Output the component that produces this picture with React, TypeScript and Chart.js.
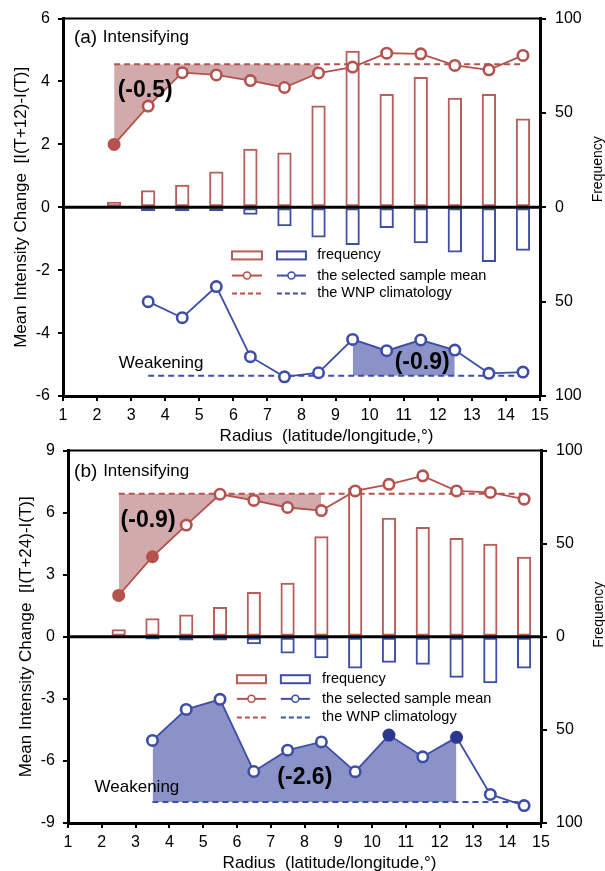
import { useEffect, useRef } from 'react';
import { Chart, registerables } from 'chart.js';

Chart.register(...registerables);

// ---------- data ----------
const radius = [2.5, 3.5, 4.5, 5.5, 6.5, 7.5, 8.5, 9.5, 10.5, 11.5, 12.5, 13.5, 14.5];
const xTicks = [1, 15];

// panel (a): 12-h change
const aIntMean = [2.0, 3.22, 4.28, 4.21, 4.03, 3.81, 4.27, 4.46, 4.9, 4.88, 4.51, 4.37, 4.83];
const aIntFilled = [true, false, false, false, false, false, false, false, false, false, false, false, false];
const aIntClim = 4.55;
const aIntFreq = [3, 9, 12, 19, 31, 29, 54, 83, 60, 69, 58, 60, 47];
const aWeakMean = [null, -3.0, -3.51, -2.52, -4.75, -5.39, -5.26, -4.2, -4.56, -4.22, -4.54, -5.28, -5.24];
const aWeakFilled = [false, false, false, false, false, false, false, false, false, false, false, false, false];
const aWeakClim = -5.36;
const aWeakFreq = [null, 2, 2, 2, 4, 10, 16, 20, 11, 19, 24, 29, 23];
const aIntShadeRange = [2.5, 8.5];
const aWeakShadeRange = [9.5, 12.5];
const aYTicks = [-6, 6, 2];
const aIntLabel = '(-0.5)';
const aWeakLabel = '(-0.9)';

// panel (b): 24-h change
const bIntMean = [2.0, 3.87, 5.4, 6.89, 6.59, 6.25, 6.1, 7.05, 7.37, 7.78, 7.05, 6.98, 6.65];
const bIntFilled = [true, true, false, false, false, false, false, false, false, false, false, false, false];
const bIntClim = 6.92;
const bIntFreq = [4, 10, 12, 16, 24, 29, 54, 80, 64, 59, 53, 50, 43];
const bWeakMean = [null, -5.01, -3.51, -3.02, -6.51, -5.48, -5.08, -6.52, -4.75, -5.8, -4.86, -7.62, -8.16];
const bWeakFilled = [false, false, false, false, false, false, false, false, true, false, true, false, false];
const bWeakClim = -7.98;
const bWeakFreq = [null, 1.5, 2, 2, 4, 9, 11.5, 17, 14, 15, 22, 25, 17];
const bIntShadeRange = [2.5, 8.5];
const bWeakShadeRange = [3.5, 12.5];
const bYTicks = [-9, 9, 3];
const bIntLabel = '(-0.9)';
const bWeakLabel = '(-2.6)';

const freqTicks = [-100, 100, 50];
const legendLabels = ['frequency', 'the selected sample mean', 'the WNP climatology'];

// ---------- styles ----------
const FONT = '"Liberation Sans", Arial, Helvetica, sans-serif';
const RED = '#B4524E';
const RED_BAR = '#B85E5A';
const BLUE = '#3E4EA8';
const BLUE_DARK = '#2C378F';
const RED_SHADE = '#D3AAAB';
const BLUE_SHADE = '#8B92C8';

type Panel = {
  tag: string;
  yLabel: string;
  yTicks: number[];
  intMean: (number | null)[];
  intFilled: boolean[];
  intClim: number;
  intFreq: (number | null)[];
  weakMean: (number | null)[];
  weakFilled: boolean[];
  weakClim: number;
  weakFreq: (number | null)[];
  intShade: number[];
  weakShade: number[];
  intLabel: string;
  weakLabel: string;
  padTop: number;
  yW: number;
  y2W: number;
  xH: number;
  tagPos: number[];
  intTextX: number;
  intLabelPos: number[];
  weakTextPos: number[];
  weakLabelPos: number[];
  legendX: number[];
  legendY: number[];
  freqOffset: number;
};

const panelA: Panel = {
  tag: '(a)',
  yLabel: 'Mean Intensity Change  [I(T+12)-I(T)]',
  yTicks: aYTicks,
  intMean: aIntMean,
  intFilled: aIntFilled,
  intClim: aIntClim,
  intFreq: aIntFreq,
  weakMean: aWeakMean,
  weakFilled: aWeakFilled,
  weakClim: aWeakClim,
  weakFreq: aWeakFreq,
  intShade: aIntShadeRange,
  weakShade: aWeakShadeRange,
  intLabel: aIntLabel,
  weakLabel: aWeakLabel,
  padTop: 17,
  yW: 63,
  y2W: 65,
  xH: 49,
  tagPos: [1.32, 5.4],
  intTextX: 2.17,
  intLabelPos: [3.41, 3.72],
  weakTextPos: [3.88, -4.95],
  weakLabelPos: [11.54, -4.95],
  legendX: [5.96, 6.84, 7.28, 8.13, 8.46],
  legendY: [-1.53, -2.17, -2.74],
  freqOffset: -38,
};

const panelB: Panel = {
  tag: '(b)',
  yLabel: 'Mean Intensity Change  [I(T+24)-I(T)]',
  yTicks: bYTicks,
  intMean: bIntMean,
  intFilled: bIntFilled,
  intClim: bIntClim,
  intFreq: bIntFreq,
  weakMean: bWeakMean,
  weakFilled: bWeakFilled,
  weakClim: bWeakClim,
  weakFreq: bWeakFreq,
  intShade: bIntShadeRange,
  weakShade: bWeakShadeRange,
  intLabel: bIntLabel,
  weakLabel: bWeakLabel,
  padTop: 13,
  yW: 68,
  y2W: 64,
  xH: 48,
  tagPos: [1.18, 8.0],
  intTextX: 2.04,
  intLabelPos: [3.37, 5.62],
  weakTextPos: [3.04, -7.29],
  weakLabelPos: [8.01, -6.81],
  legendX: [6.0, 6.86, 7.3, 8.16, 8.52],
  legendY: [-2.05, -3.0, -3.9],
  freqOffset: -22,
};

function pts(vals: (number | null)[], lo = -Infinity, hi = Infinity) {
  const out: { x: number; y: number }[] = [];
  radius.forEach((x, i) => {
    const v = vals[i];
    if (v !== null && v !== undefined && x >= lo && x <= hi) out.push({ x, y: v });
  });
  return out;
}

function climPts(vals: (number | null)[], clim: number) {
  const xs = radius.filter((_, i) => vals[i] !== null);
  return [{ x: xs[0], y: clim }, { x: xs[xs.length - 1], y: clim }];
}

function makeOverlay(p: Panel) {
  return {
    id: 'overlay',
    afterDraw(chart: any) {
      const { ctx, chartArea: ca, scales } = chart;
      const X = (v: number) => scales.x.getPixelForValue(v);
      const Y = (v: number) => scales.y.getPixelForValue(v);
      ctx.save();
      ctx.strokeStyle = '#000';
      // top border
      ctx.lineWidth = 2;
      ctx.beginPath();
      ctx.moveTo(ca.left, ca.top);
      ctx.lineTo(ca.right, ca.top);
      ctx.stroke();
      // zero line
      ctx.lineWidth = 3;
      ctx.beginPath();
      ctx.moveTo(ca.left, Y(0));
      ctx.lineTo(ca.right, Y(0));
      ctx.stroke();

      ctx.fillStyle = '#000';
      ctx.textBaseline = 'middle';
      ctx.textAlign = 'left';
      ctx.font = `19px ${FONT}`;
      ctx.fillText(p.tag, X(p.tagPos[0]), Y(p.tagPos[1]));
      ctx.font = `17px ${FONT}`;
      ctx.fillText('Intensifying', X(p.intTextX), Y(p.tagPos[1]));
      ctx.textAlign = 'center';
      ctx.fillText('Weakening', X(p.weakTextPos[0]), Y(p.weakTextPos[1]));
      ctx.font = `bold 23px ${FONT}`;
      ctx.fillText(p.intLabel, X(p.intLabelPos[0]), Y(p.intLabelPos[1]));
      ctx.fillText(p.weakLabel, X(p.weakLabelPos[0]), Y(p.weakLabelPos[1]));

      // legend
      const [rx0, rx1, bx0, bx1, tx] = p.legendX;
      const [r1, r2, r3] = p.legendY.map(Y);
      ctx.lineWidth = 2;
      ctx.strokeStyle = RED_BAR;
      ctx.strokeRect(X(rx0), r1 - 4, X(rx1) - X(rx0), 8);
      ctx.strokeStyle = BLUE;
      ctx.strokeRect(X(bx0), r1 - 4, X(bx1) - X(bx0), 8);
      const symLine = (x0: number, x1: number, y: number, color: string, dash: number[]) => {
        ctx.strokeStyle = color;
        ctx.lineWidth = 2;
        ctx.setLineDash(dash);
        ctx.beginPath();
        ctx.moveTo(x0, y);
        ctx.lineTo(x1, y);
        ctx.stroke();
        ctx.setLineDash([]);
      };
      symLine(X(rx0), X(rx1), r2, RED, []);
      symLine(X(bx0), X(bx1), r2, BLUE, []);
      [[rx0, rx1, RED], [bx0, bx1, BLUE]].forEach(([a, b, c]: any) => {
        ctx.beginPath();
        ctx.arc((X(a) + X(b)) / 2, r2, 3.5, 0, Math.PI * 2);
        ctx.fillStyle = '#fff';
        ctx.fill();
        ctx.lineWidth = 1.5;
        ctx.strokeStyle = c;
        ctx.stroke();
      });
      symLine(X(rx0), X(rx1), r3, RED, [5, 3]);
      symLine(X(bx0), X(bx1), r3, BLUE, [5, 3]);
      ctx.fillStyle = '#000';
      ctx.textAlign = 'left';
      ctx.font = `14.5px ${FONT}`;
      ctx.fillText(legendLabels[0], X(tx), r1);
      ctx.fillText(legendLabels[1], X(tx), r2);
      ctx.fillText(legendLabels[2], X(tx), r3);

      // axis titles
      ctx.font = `17px ${FONT}`;
      ctx.textAlign = 'center';
      ctx.fillText('Radius  (latitude/longitude,\u00b0)', (ca.left + ca.right) / 2 + 25, ca.bottom + 40);
      const midY = (ca.top + ca.bottom) / 2;
      ctx.save();
      ctx.translate(ca.left - 42, midY);
      ctx.rotate(-Math.PI / 2);
      ctx.fillText(p.yLabel, 0, 0);
      ctx.restore();
      ctx.save();
      ctx.font = `14px ${FONT}`;
      ctx.translate(ca.right + 58, midY + p.freqOffset);
      ctx.rotate(-Math.PI / 2);
      ctx.fillText('Frequency', 0, 0);
      ctx.restore();
      ctx.restore();
    },
  };
}

function buildChart(canvas: HTMLCanvasElement, p: Panel) {
  const tickFont = { family: FONT, size: 16 };
  const intBg = radius.map((_, i) => (p.intFilled[i] ? RED : '#fff'));
  const weakIdx = radius.map((_, i) => i).filter((i) => p.weakMean[i] !== null);
  const weakBg = weakIdx.map((i) => (p.weakFilled[i] ? BLUE_DARK : '#fff'));
  const weakBorder = weakIdx.map((i) => (p.weakFilled[i] ? BLUE_DARK : BLUE));

  const barBase = {
    type: 'bar',
    yAxisID: 'y2',
    backgroundColor: 'rgba(255,255,255,0)',
    borderWidth: 2,
    borderSkipped: false,
    barPercentage: 0.42,
    categoryPercentage: 1,
    grouped: false,
    order: 10,
  };

  const config: any = {
    type: 'line',
    data: {
      datasets: [
        { ...barBase, data: pts(p.intFreq), borderColor: RED_BAR },
        { ...barBase, data: pts(p.weakFreq.map((v) => (v === null ? null : -v))), borderColor: BLUE },
        {
          data: pts(p.intMean, p.intShade[0], p.intShade[1]),
          borderWidth: 0,
          borderColor: 'rgba(0,0,0,0)',
          pointRadius: 0,
          fill: { target: { value: p.intClim }, above: 'rgba(0,0,0,0)', below: RED_SHADE },
          order: 8,
        },
        {
          data: pts(p.weakMean, p.weakShade[0], p.weakShade[1]),
          borderWidth: 0,
          borderColor: 'rgba(0,0,0,0)',
          pointRadius: 0,
          fill: { target: { value: p.weakClim }, above: BLUE_SHADE, below: 'rgba(0,0,0,0)' },
          order: 8,
        },
        {
          data: climPts(p.intMean, p.intClim),
          borderColor: RED,
          borderWidth: 2,
          borderDash: [6, 4],
          pointRadius: 0,
          fill: false,
          order: 5,
        },
        {
          data: climPts(p.weakMean, p.weakClim),
          borderColor: BLUE,
          borderWidth: 2,
          borderDash: [6, 4],
          pointRadius: 0,
          fill: false,
          order: 5,
        },
        {
          data: pts(p.intMean),
          borderColor: RED,
          borderWidth: 1.8,
          pointRadius: 5.2,
          pointBorderWidth: 2.6,
          pointBackgroundColor: intBg,
          pointBorderColor: RED,
          fill: false,
          order: 1,
        },
        {
          data: pts(p.weakMean),
          borderColor: BLUE,
          borderWidth: 1.8,
          pointRadius: 5.2,
          pointBorderWidth: 2.6,
          pointBackgroundColor: weakBg,
          pointBorderColor: weakBorder,
          fill: false,
          order: 1,
        },
      ],
    },
    options: {
      responsive: false,
      devicePixelRatio: 1,
      animation: false,
      layout: { padding: { top: p.padTop, left: 0, right: 0, bottom: 0 } },
      plugins: { legend: { display: false }, tooltip: { enabled: false } },
      elements: { line: { tension: 0 } },
      scales: {
        x: {
          type: 'linear',
          min: xTicks[0],
          max: xTicks[1],
          offset: false,
          ticks: { stepSize: 1, font: tickFont, color: '#000', padding: 5, maxRotation: 0, autoSkip: false },
          grid: { display: true, drawOnChartArea: false, drawTicks: true, tickLength: 5, color: '#000', lineWidth: 2, offset: false },
          border: { display: true, color: '#000', width: 3 },
          afterFit: (s: any) => {
            s.height = p.xH;
          },
        },
        y: {
          type: 'linear',
          position: 'left',
          min: p.yTicks[0],
          max: p.yTicks[1],
          ticks: { stepSize: p.yTicks[2], font: tickFont, color: '#000', padding: 8 },
          grid: { display: true, drawOnChartArea: false, drawTicks: true, tickLength: 5, color: '#000', lineWidth: 2 },
          border: { display: true, color: '#000', width: 3 },
          afterFit: (s: any) => {
            s.width = p.yW;
          },
        },
        y2: {
          type: 'linear',
          position: 'right',
          min: freqTicks[0],
          max: freqTicks[1],
          ticks: {
            stepSize: freqTicks[2],
            font: tickFont,
            color: '#000',
            padding: 9,
            callback: (v: any) => String(Math.abs(Number(v))),
          },
          grid: { display: true, drawOnChartArea: false, drawTicks: true, tickLength: 6, color: '#000', lineWidth: 2 },
          border: { display: true, color: '#000', width: 3 },
          afterFit: (s: any) => {
            s.width = p.y2W;
          },
        },
      },
    },
    plugins: [makeOverlay(p)],
  };
  return new Chart(canvas, config);
}

export default function App() {
  const refA = useRef<HTMLCanvasElement>(null);
  const refB = useRef<HTMLCanvasElement>(null);
  useEffect(() => {
    document.body.style.margin = '0';
    const a = buildChart(refA.current as HTMLCanvasElement, panelA);
    const b = buildChart(refB.current as HTMLCanvasElement, panelB);
    return () => {
      a.destroy();
      b.destroy();
    };
  }, []);
  return (
    <div style={{ position: 'relative', width: 605, height: 871, background: '#fff', overflow: 'hidden' }}>
      <canvas ref={refA} width={605} height={445} style={{ position: 'absolute', left: 0, top: 0 }} />
      <canvas ref={refB} width={605} height={439} style={{ position: 'absolute', left: 0, top: 432 }} />
    </div>
  );
}
